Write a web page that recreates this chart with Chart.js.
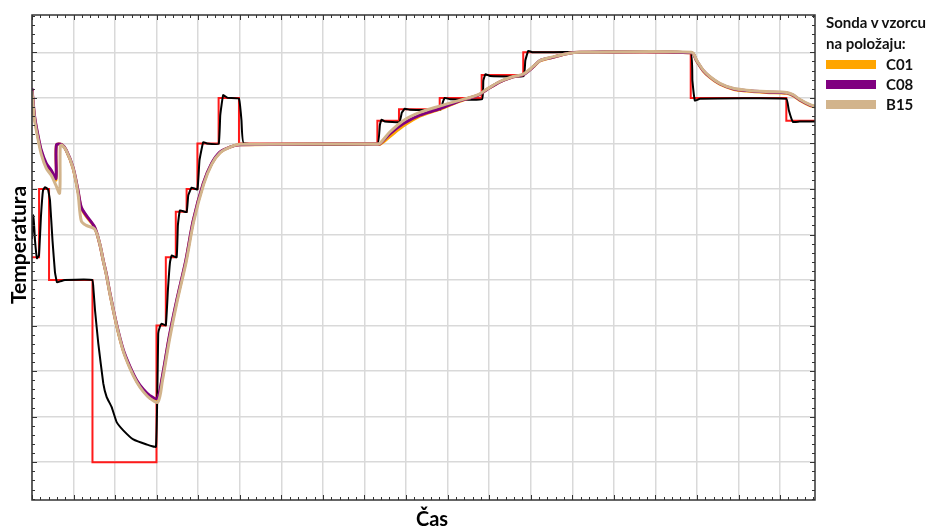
<!DOCTYPE html>
<html>
<head>
<meta charset="utf-8">
<script src="https://cdn.jsdelivr.net/npm/chart.js@4.4.0/dist/chart.umd.min.js"></script>
<style>
  body { margin: 0; background: #fff; }
  #wrap { position: relative; width: 932px; height: 528px; overflow: hidden; }
  #legend { position: absolute; left: 826px; top: 12px; font: bold 15px Lato, sans-serif; color: #111; white-space: nowrap; }
  #legend .title { line-height: 21px; }
  #legend .row { display: flex; align-items: center; height: 20px; }
  #legend .box { width: 50px; height: 9px; margin-right: 10px; }
</style>
</head>
<body>
<div id="wrap">
  <canvas id="chart" width="932" height="528"></canvas>
  <div id="legend"></div>
</div>
<script>
// set point (red, stepped)
const setTime = [0, 0.17, 0.41, 1.455, 2.995, 3.22, 3.46, 3.72, 3.98, 4.49, 4.98, 8.31, 8.83, 9.81, 10.82, 11.82, 15.85, 18.15, 18.84];
const setTemp = [4.5, 6, 4, 0, 3, 4.5, 5.5, 6, 7, 8, 7, 7.5, 7.75, 8, 8.5, 9, 8, 7.5, 7.5];

// chamber (black)
const airTime = [0, 0.036, 0.072, 0.12, 0.168, 0.217, 0.265, 0.313, 0.385, 0.433, 0.493, 0.553, 0.601, 0.674, 0.794,
  1.45, 1.48, 1.516, 1.595, 1.715, 1.797, 1.917, 2.037, 2.196, 2.437, 2.759, 2.983,
  3.038, 3.08, 3.12, 3.22, 3.27, 3.32, 3.36, 3.48, 3.51, 3.56, 3.72, 3.76, 3.84, 3.98,
  4.03, 4.12, 4.21, 4.49, 4.53, 4.60, 4.71, 4.98, 5.04, 5.10,
  8.31, 8.37, 8.41, 8.49, 8.84, 8.90, 8.97, 9.09, 9.83, 9.89, 9.93, 10.06, 10.83, 10.86, 10.91, 11.02,
  11.83, 11.87, 11.94, 12.05, 15.84, 15.89, 15.95, 16.07, 18.15, 18.21, 18.31, 18.47, 18.84];
const airTemp = [4.9, 5.42, 4.87, 4.48, 4.54, 5.42, 5.97, 6.04, 5.99, 5.75, 4.87, 4.17, 3.95, 3.97, 4.0,
  4.0, 3.78, 3.34, 2.61, 1.73, 1.43, 1.21, 0.88, 0.70, 0.50, 0.39, 0.34,
  2.83, 2.98, 3.04, 3.01, 3.78, 4.39, 4.54, 4.50, 5.20, 5.53, 5.49, 5.86, 6.03, 5.99,
  6.63, 7.03, 7.0, 6.99, 7.62, 8.06, 8.0, 7.98, 7.51, 7.0,
  6.99, 7.40, 7.52, 7.48, 7.47, 7.68, 7.76, 7.74, 7.74, 7.92, 8.0, 7.97, 7.97, 8.38, 8.52, 8.48,
  8.48, 8.82, 9.03, 9.0, 9.0, 8.38, 7.94, 7.98, 7.98, 7.73, 7.47, 7.48, 7.48];

// probe C08
const c08Time = [0, 0.065, 0.144, 0.224, 0.344, 0.464, 0.577, 0.589, 0.722, 0.825, 0.986, 1.107, 1.186, 1.306, 1.508,
  1.629, 1.715, 1.787, 1.876, 2.037, 2.196, 2.357, 2.519, 2.677, 2.839, 3.014, 3.13, 3.30, 3.48, 3.70, 3.88,
  4.12, 4.32, 4.52, 4.76, 5.0, 8.30, 8.37, 8.61, 8.93, 9.33, 9.81, 10.22, 10.46, 10.74, 10.94, 11.26, 11.58,
  11.82, 12.06, 12.22, 12.53, 12.86, 13.18, 15.87, 15.99, 16.15, 16.31, 16.55, 16.87, 17.19, 17.67, 18.16,
  18.31, 18.47, 18.72, 18.84];
const c08Temp = [8.21, 7.58, 7.18, 6.85, 6.56, 6.41, 6.23, 6.97, 6.97, 6.85, 6.48, 5.97, 5.60, 5.42, 5.16,
  4.80, 4.43, 4.14, 3.71, 3.02, 2.47, 2.10, 1.80, 1.60, 1.46, 1.40, 1.85, 2.75, 3.55, 4.43, 5.31,
  6.12, 6.56, 6.81, 6.92, 6.97, 6.99, 6.99, 7.21, 7.43, 7.62, 7.76, 7.91, 7.98, 8.06, 8.18, 8.35, 8.46,
  8.51, 8.68, 8.82, 8.89, 8.97, 9.0, 8.99, 8.82, 8.60, 8.46, 8.31, 8.20, 8.16, 8.13, 8.11,
  8.06, 7.96, 7.84, 7.81];

// probe C01
const c01Time = c08Time;
const c01Temp = [8.18, 7.55, 7.15, 6.82, 6.50, 6.36, 6.20, 6.97, 6.97, 6.84, 6.46, 5.95, 5.58, 5.40, 5.15,
  4.79, 4.42, 4.13, 3.70, 3.00, 2.45, 2.08, 1.78, 1.58, 1.44, 1.37, 1.83, 2.73, 3.53, 4.41, 5.30,
  6.11, 6.55, 6.80, 6.92, 6.97, 6.99, 6.98, 7.15, 7.38, 7.60, 7.75, 7.90, 7.98, 8.06, 8.18, 8.35, 8.46,
  8.51, 8.68, 8.81, 8.89, 8.97, 9.0, 8.99, 8.81, 8.59, 8.45, 8.30, 8.19, 8.15, 8.12, 8.10,
  8.05, 7.95, 7.83, 7.80];

// probe B15
const b15Time = [0, 0.065, 0.144, 0.224, 0.344, 0.464, 0.577, 0.665, 0.68, 0.722, 0.825, 0.986, 1.107, 1.186, 1.306, 1.508,
  1.629, 1.715, 1.787, 1.876, 2.037, 2.196, 2.357, 2.519, 2.677, 2.839, 3.03, 3.14, 3.31, 3.49, 3.71, 3.89,
  4.13, 4.33, 4.53, 4.77, 5.0, 8.30, 8.37, 8.61, 8.93, 9.33, 9.81, 10.22, 10.46, 10.74, 10.94, 11.26, 11.58,
  11.82, 12.06, 12.22, 12.53, 12.86, 13.18, 15.87, 15.99, 16.15, 16.31, 16.55, 16.87, 17.19, 17.67, 18.16,
  18.31, 18.47, 18.72, 18.84];
const b15Temp = [8.15, 7.50, 7.10, 6.76, 6.45, 6.30, 6.08, 5.91, 6.95, 6.96, 6.84, 6.46, 5.90, 5.30, 5.20, 5.12,
  4.80, 4.42, 4.12, 3.69, 3.00, 2.44, 2.06, 1.76, 1.55, 1.40, 1.32, 1.80, 2.70, 3.52, 4.40, 5.28,
  6.10, 6.55, 6.80, 6.92, 6.98, 6.99, 7.0, 7.25, 7.50, 7.68, 7.82, 7.93, 7.99, 8.07, 8.19, 8.36, 8.47,
  8.52, 8.69, 8.82, 8.90, 8.97, 9.0, 9.0, 8.83, 8.61, 8.47, 8.32, 8.21, 8.17, 8.14, 8.12,
  8.07, 7.97, 7.85, 7.82];

const xMin = 0, xMax = 18.84, yMin = -0.83, yMax = 9.82;

function pts(xs, ys) {
  return xs.map((x, i) => ({ x: x, y: ys[i] }));
}

const probes = [
  { label: 'C01', color: '#FFA500', time: c01Time, temp: c01Temp, order: 3 },
  { label: 'C08', color: '#800080', time: c08Time, temp: c08Temp, order: 2 },
  { label: 'B15', color: '#D2B48C', time: b15Time, temp: b15Temp, order: 1 }
];

const datasets = [
  { label: 'set', data: pts(setTime, setTemp), borderColor: '#FF1A1A', borderWidth: 2, stepped: true, order: 6 },
  { label: 'air', data: pts(airTime, airTemp), borderColor: '#000000', borderWidth: 2, tension: 0.1, order: 5 }
].concat(probes.map(p => ({
  label: p.label, data: pts(p.time, p.temp), borderColor: p.color, borderWidth: 3, tension: 0.3, order: p.order
})));

// frame, inward ticks and axis titles
const framePlugin = {
  id: 'frame',
  afterDraw(chart) {
    const ctx = chart.ctx, a = chart.chartArea;
    const xs = chart.scales.x, ys = chart.scales.y;
    ctx.save();
    ctx.strokeStyle = '#333';
    ctx.lineWidth = 1.5;
    ctx.strokeRect(a.left, a.top, a.right - a.left, a.bottom - a.top);
    ctx.lineWidth = 1;
    ctx.beginPath();
    for (let i = 0; i <= 94; i++) {
      const v = i / 5;
      if (v > xMax) break;
      const len = i % 5 === 0 ? 5 : 3;
      const px = Math.round(xs.getPixelForValue(v)) + 0.5;
      ctx.moveTo(px, a.bottom); ctx.lineTo(px, a.bottom - len);
      ctx.moveTo(px, a.top); ctx.lineTo(px, a.top + len);
    }
    for (let i = -4; i <= 49; i++) {
      const v = i / 5;
      const len = i % 5 === 0 ? 5 : 3;
      const py = Math.round(ys.getPixelForValue(v)) + 0.5;
      ctx.moveTo(a.left, py); ctx.lineTo(a.left + len, py);
      ctx.moveTo(a.right, py); ctx.lineTo(a.right - len, py);
    }
    ctx.stroke();

    ctx.fillStyle = '#000';
    ctx.font = 'bold 20px Lato, sans-serif';
    ctx.textAlign = 'center';
    ctx.textBaseline = 'alphabetic';
    ctx.fillText('Čas', 432, 526);
    ctx.translate(26, 245);
    ctx.rotate(-Math.PI / 2);
    ctx.font = 'bold 21px Lato, sans-serif';
    ctx.fillText('Temperatura', 0, 0);
    ctx.restore();
  }
};

const chart = new Chart(document.getElementById('chart'), {
  type: 'line',
  data: { datasets: datasets },
  options: {
    responsive: false,
    animation: false,
    layout: { padding: { left: 32, top: 15, right: 117, bottom: 28 } },
    elements: { point: { radius: 0 } },
    plugins: { legend: { display: false }, tooltip: { enabled: false } },
    scales: {
      x: {
        type: 'linear', min: xMin, max: xMax,
        ticks: { display: false, stepSize: 1, includeBounds: false },
        grid: { color: '#d9d9d9', lineWidth: 1.5, drawTicks: false },
        border: { display: false }
      },
      y: {
        type: 'linear', min: yMin, max: yMax,
        ticks: { display: false, stepSize: 1, includeBounds: false },
        grid: { color: '#d9d9d9', lineWidth: 1.5, drawTicks: false },
        border: { display: false }
      }
    }
  },
  plugins: [framePlugin]
});

// legend for the probes
const legend = document.getElementById('legend');
legend.innerHTML = '<div class="title">Sonda v vzorcu<br>na položaju:</div>' +
  probes.map(p => '<div class="row"><span class="box" style="background:' + p.color + '"></span>' + p.label + '</div>').join('');
</script>
</body>
</html>
